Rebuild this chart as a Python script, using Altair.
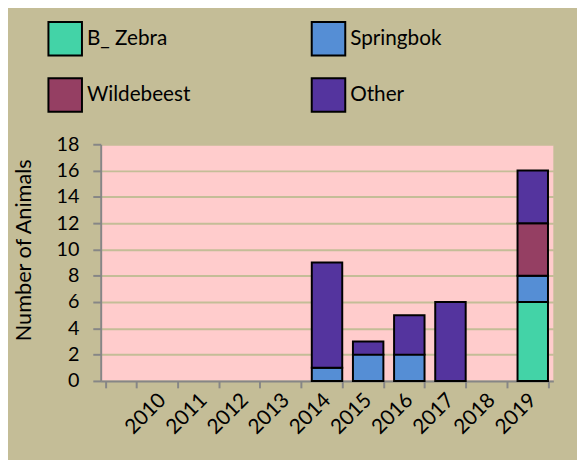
import altair as alt
import pandas as pd

years = ["", "2010", "2011", "2012", "2013", "2014", "2015", "2016", "2017", "2018", "2019"]
data_years = ["2010", "2011", "2012", "2013", "2014", "2015", "2016", "2017", "2018", "2019"]
species = ["B_ Zebra", "Springbok", "Wildebeest", "Other"]
zebra = [0, 0, 0, 0, 0, 0, 0, 0, 0, 6]
springbok = [0, 0, 0, 0, 1, 2, 2, 0, 0, 2]
wildebeest = [0, 0, 0, 0, 0, 0, 0, 0, 0, 4]
other = [0, 0, 0, 0, 8, 1, 3, 6, 0, 4]
colors = ["#43D3A7", "#558ED5", "#953F63", "#54349E"]

rows = []
for sp_i, (sp, vals) in enumerate(zip(species, [zebra, springbok, wildebeest, other])):
    for y, v in zip(data_years, vals):
        rows.append({"year": y, "species": sp, "count": v, "order": sp_i})
df = pd.DataFrame(rows)

FONT = "Lato"

chart = (
    alt.Chart(df)
    .transform_filter("datum.count > 0")
    .mark_bar(stroke="black", strokeWidth=2)
    .encode(
        x=alt.X(
            "year:N",
            scale=alt.Scale(domain=years, paddingInner=0.26, paddingOuter=0.13),
            axis=alt.Axis(
                title=None,
                labelAngle=-45,
                labelAlign="right",
                labelBaseline="middle",
                labelPadding=9,
                labelFontSize=21,
                labelFont=FONT,
                labelColor="black",
                tickBand="extent",
                tickSize=7,
                tickColor="#868686",
                tickWidth=2,
                domainColor="#868686",
                domainWidth=2,
                grid=False,
            ),
        ),
        y=alt.Y(
            "count:Q",
            stack="zero",
            scale=alt.Scale(domain=[0, 18], nice=False),
            axis=alt.Axis(
                title="Number  of  Animals",
                titleFontSize=22,
                titleFont=FONT,
                titleFontWeight="normal",
                titleColor="black",
                titleX=-71,
                titleY=107,
                titleAlign="center",
                titleBaseline="alphabetic",
                values=list(range(0, 19, 2)),
                labelFontSize=20,
                labelFont=FONT,
                labelColor="black",
                labelPadding=14,
                tickSize=8,
                tickColor="#868686",
                tickWidth=2,
                domainColor="#868686",
                domainWidth=2,
                grid=True,
                gridColor="#C4BD97",
                gridWidth=2,
            ),
        ),
        color=alt.Color(
            "species:N",
            scale=alt.Scale(domain=species, range=colors),
            legend=alt.Legend(
                title=None,
                orient="none",
                direction="horizontal",
                legendX=-54,
                legendY=-125,
                columns=2,
                columnPadding=118,
                rowPadding=15,
                padding=0,
                symbolType="square",
                symbolSize=1156,
                symbolStrokeColor="black",
                symbolStrokeWidth=2,
                symbolOpacity=1,
                labelFontSize=21,
                labelFont=FONT,
                labelColor="black",
                labelOffset=4,
                labelLimit=300,
            ),
        ),
        order=alt.Order("order:Q", sort="ascending"),
    )
    .properties(
        width=459,
        height=240,
        background="#C4BD97",
        padding={"left": 94, "top": 135, "right": 24, "bottom": 77},
        autosize=alt.AutoSizeParams(type="none"),
    )
    .configure_view(fill="#FFCCCC", stroke=None)
)

chart.save("out.html", embed_options={"renderer": "svg", "actions": False})
